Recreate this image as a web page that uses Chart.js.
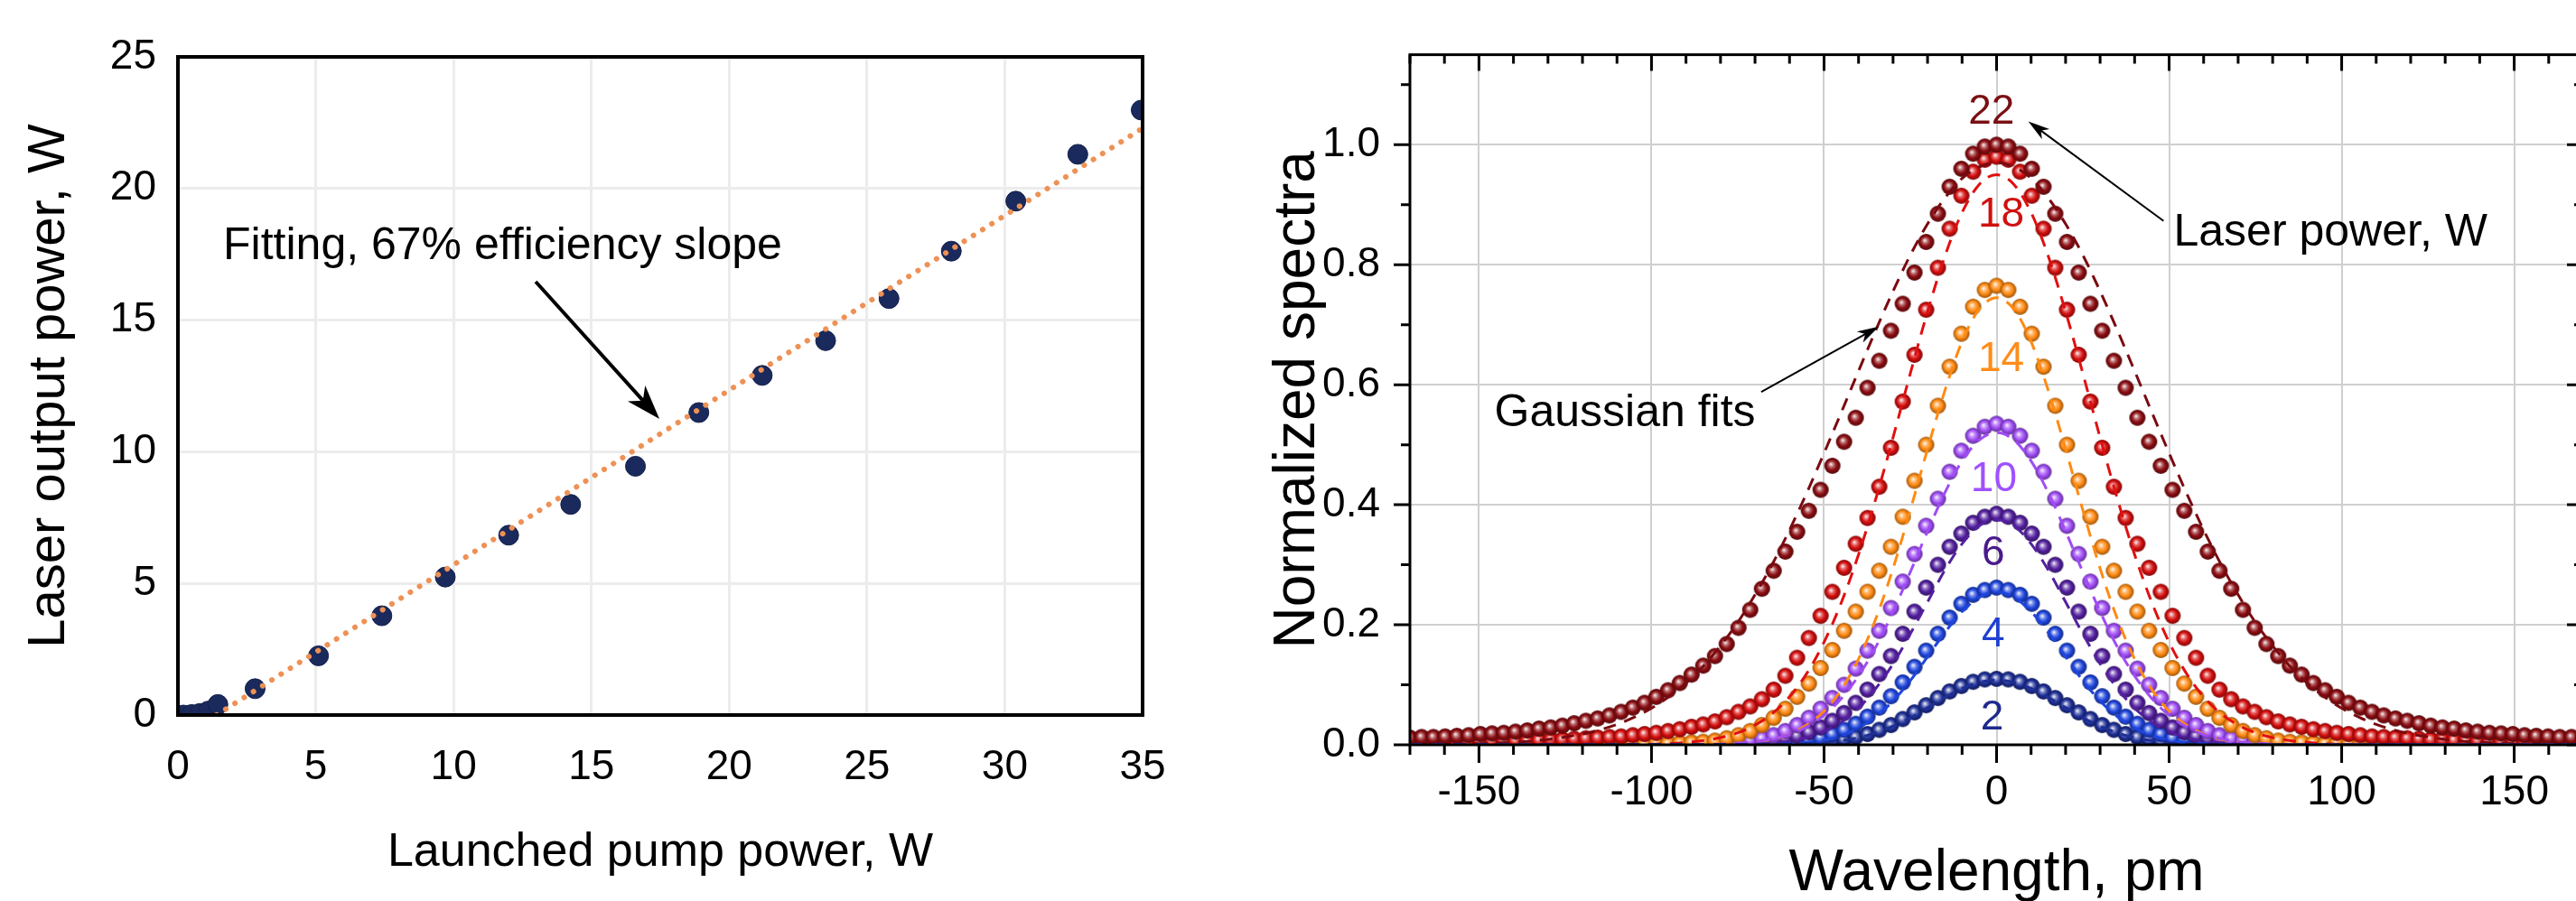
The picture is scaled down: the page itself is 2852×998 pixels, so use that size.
<!DOCTYPE html>
<html>
<head>
<meta charset="utf-8">
<title>Laser output power and normalized spectra</title>
<script src="https://cdn.jsdelivr.net/npm/chart.js@4.4.1/dist/chart.umd.min.js"></script>
<style>
  html, body { margin: 0; padding: 0; background: #fff; overflow: hidden; width: 2852px; height: 998px; }
  .box { position: absolute; top: 0; }
  #leftBox { left: 0; width: 1330px; height: 998px; }
  #rightBox { left: 1380px; width: 1500px; height: 1010px; }
</style>
</head>
<body>
<div class="box" id="leftBox"><canvas id="powerChart"></canvas></div>
<div class="box" id="rightBox"><canvas id="spectraChart"></canvas></div>
<script>
// ---- left panel: output power vs launched pump power ----
const pumpPower  = [0.2, 0.5, 0.8, 1.1, 1.45, 2.8, 5.1, 7.4, 9.7, 12.0, 14.25, 16.6, 18.9, 21.2, 23.5, 25.8, 28.06, 30.4, 32.65, 34.95];
const laserPower = [0.0, 0.02, 0.06, 0.15, 0.4, 1.0, 2.25, 3.77, 5.24, 6.83, 8.0, 9.45, 11.49, 12.9, 14.22, 15.82, 17.62, 19.52, 21.3, 22.98];
const fitPump  = [1.4, 35];
const fitLaser = [0, 22.29];
const powerTicksX = [0, 5, 10, 15, 20, 25, 30, 35];
const powerTicksY = [0, 5, 10, 15, 20, 25];

// ---- right panel: normalized spectra, one array per laser power ----
const wavelength = [
  -170, -166.6, -163.2, -159.8, -156.4, -153, -149.6, -146.2, -142.8, -139.4,
  -136, -132.6, -129.2, -125.8, -122.4, -119, -115.6, -112.2, -108.8, -105.4,
  -102, -98.6, -95.2, -91.8, -88.4, -85, -81.6, -78.2, -74.8, -71.4,
  -68, -64.6, -61.2, -57.8, -54.4, -51, -47.6, -44.2, -40.8, -37.4,
  -34, -30.6, -27.2, -23.8, -20.4, -17, -13.6, -10.2, -6.8, -3.4,
  0,
  3.4, 6.8, 10.2, 13.6, 17, 20.4, 23.8, 27.2, 30.6, 34,
  37.4, 40.8, 44.2, 47.6, 51, 54.4, 57.8, 61.2, 64.6, 68,
  71.4, 74.8, 78.2, 81.6, 85, 88.4, 91.8, 95.2, 98.6, 102,
  105.4, 108.8, 112.2, 115.6, 119, 122.4, 125.8, 129.2, 132.6, 136,
  139.4, 142.8, 146.2, 149.6, 153, 156.4, 159.8, 163.2, 166.6, 170
];
const spec22 = [
  0.012, 0.013, 0.013, 0.014, 0.015, 0.016, 0.018, 0.019, 0.02, 0.022,
  0.024, 0.027, 0.029, 0.032, 0.036, 0.04, 0.044, 0.049, 0.055, 0.062,
  0.07, 0.08, 0.091, 0.103, 0.117, 0.132, 0.148, 0.168, 0.195, 0.225,
  0.26, 0.29, 0.322, 0.355, 0.39, 0.425, 0.465, 0.505, 0.545, 0.595,
  0.64, 0.69, 0.735, 0.787, 0.838, 0.885, 0.93, 0.96, 0.985, 0.997,
  1.0,
  0.997, 0.985, 0.96, 0.93, 0.885, 0.838, 0.787, 0.735, 0.69, 0.64,
  0.595, 0.545, 0.505, 0.465, 0.425, 0.39, 0.355, 0.322, 0.29, 0.26,
  0.225, 0.195, 0.168, 0.148, 0.132, 0.117, 0.103, 0.091, 0.08, 0.07,
  0.062, 0.055, 0.049, 0.044, 0.04, 0.036, 0.032, 0.029, 0.027, 0.024,
  0.022, 0.02, 0.019, 0.018, 0.016, 0.015, 0.014, 0.013, 0.013, 0.012
];
const spec18 = [
  0.004, 0.004, 0.004, 0.005, 0.005, 0.005, 0.005, 0.006, 0.006, 0.007,
  0.007, 0.008, 0.009, 0.009, 0.01, 0.011, 0.012, 0.013, 0.014, 0.016,
  0.018, 0.02, 0.023, 0.026, 0.03, 0.034, 0.039, 0.046, 0.055, 0.064,
  0.076, 0.092, 0.115, 0.145, 0.178, 0.215, 0.255, 0.295, 0.335, 0.378,
  0.43, 0.495, 0.572, 0.65, 0.725, 0.795, 0.86, 0.915, 0.955, 0.975,
  0.98,
  0.975, 0.955, 0.915, 0.86, 0.795, 0.725, 0.65, 0.572, 0.495, 0.43,
  0.378, 0.335, 0.295, 0.255, 0.215, 0.178, 0.145, 0.115, 0.092, 0.076,
  0.064, 0.055, 0.046, 0.039, 0.034, 0.03, 0.026, 0.023, 0.02, 0.018,
  0.016, 0.014, 0.013, 0.012, 0.011, 0.01, 0.009, 0.009, 0.008, 0.007,
  0.007, 0.006, 0.006, 0.005, 0.005, 0.005, 0.005, 0.004, 0.004, 0.004
];
const spec14 = [
  0, 0, 0, 0, 0, 0, 0, 0, 0, 0,
  0, 0, 0, 0, 0, 0, 0, 0, 0, 0.001,
  0.001, 0.002, 0.002, 0.003, 0.004, 0.005, 0.007, 0.011, 0.016, 0.023,
  0.033, 0.045, 0.06, 0.08, 0.102, 0.128, 0.158, 0.19, 0.222, 0.255,
  0.29, 0.33, 0.38, 0.44, 0.5, 0.565, 0.63, 0.685, 0.73, 0.758,
  0.765,
  0.758, 0.73, 0.685, 0.63, 0.565, 0.5, 0.44, 0.38, 0.33, 0.29,
  0.255, 0.222, 0.19, 0.158, 0.128, 0.102, 0.08, 0.06, 0.045, 0.033,
  0.023, 0.016, 0.011, 0.007, 0.005, 0.004, 0.003, 0.002, 0.002, 0.001,
  0.001, 0, 0, 0, 0, 0, 0, 0, 0, 0,
  0, 0, 0, 0, 0, 0, 0, 0, 0, 0
];
const spec10 = [
  0, 0, 0, 0, 0, 0, 0, 0, 0, 0,
  0, 0, 0, 0, 0, 0, 0, 0, 0, 0,
  0, 0, 0, 0.001, 0.002, 0.002, 0.003, 0.004, 0.006, 0.008,
  0.011, 0.016, 0.023, 0.033, 0.045, 0.06, 0.078, 0.1, 0.127, 0.157,
  0.19, 0.228, 0.272, 0.318, 0.365, 0.41, 0.455, 0.49, 0.515, 0.53,
  0.535,
  0.53, 0.515, 0.49, 0.455, 0.41, 0.365, 0.318, 0.272, 0.228, 0.19,
  0.157, 0.127, 0.1, 0.078, 0.06, 0.045, 0.033, 0.023, 0.016, 0.011,
  0.008, 0.006, 0.004, 0.003, 0.002, 0.002, 0.001, 0, 0, 0,
  0, 0, 0, 0, 0, 0, 0, 0, 0, 0,
  0, 0, 0, 0, 0, 0, 0, 0, 0, 0
];
const spec6 = [
  0, 0, 0, 0, 0, 0, 0, 0, 0, 0,
  0, 0, 0, 0, 0, 0, 0, 0, 0, 0,
  0, 0, 0, 0, 0, 0, 0.001, 0.002, 0.003, 0.004,
  0.006, 0.008, 0.011, 0.015, 0.021, 0.029, 0.04, 0.053, 0.07, 0.092,
  0.118, 0.148, 0.185, 0.222, 0.262, 0.3, 0.33, 0.352, 0.37, 0.38,
  0.385,
  0.38, 0.37, 0.352, 0.33, 0.3, 0.262, 0.222, 0.185, 0.148, 0.118,
  0.092, 0.07, 0.053, 0.04, 0.029, 0.021, 0.015, 0.011, 0.008, 0.006,
  0.004, 0.003, 0.002, 0.001, 0, 0, 0, 0, 0, 0,
  0, 0, 0, 0, 0, 0, 0, 0, 0, 0,
  0, 0, 0, 0, 0, 0, 0, 0, 0, 0
];
const spec4 = [
  0, 0, 0, 0, 0, 0, 0, 0, 0, 0,
  0, 0, 0, 0, 0, 0, 0, 0, 0, 0,
  0, 0, 0, 0, 0, 0, 0, 0, 0, 0.001,
  0.002, 0.003, 0.004, 0.006, 0.008, 0.012, 0.018, 0.025, 0.035, 0.047,
  0.062, 0.081, 0.104, 0.13, 0.157, 0.185, 0.212, 0.235, 0.25, 0.258,
  0.262,
  0.258, 0.25, 0.235, 0.212, 0.185, 0.157, 0.13, 0.104, 0.081, 0.062,
  0.047, 0.035, 0.025, 0.018, 0.012, 0.008, 0.006, 0.004, 0.003, 0.002,
  0.001, 0, 0, 0, 0, 0, 0, 0, 0, 0,
  0, 0, 0, 0, 0, 0, 0, 0, 0, 0,
  0, 0, 0, 0, 0, 0, 0, 0, 0, 0
];
const spec2 = [
  0, 0, 0, 0, 0, 0, 0, 0, 0, 0,
  0, 0, 0, 0, 0, 0, 0, 0, 0, 0,
  0, 0, 0, 0, 0, 0, 0, 0, 0, 0,
  0, 0, 0, 0.001, 0.002, 0.004, 0.006, 0.009, 0.013, 0.018,
  0.025, 0.033, 0.043, 0.054, 0.066, 0.078, 0.089, 0.098, 0.105, 0.109,
  0.11,
  0.109, 0.105, 0.098, 0.089, 0.078, 0.066, 0.054, 0.043, 0.033, 0.025,
  0.018, 0.013, 0.009, 0.006, 0.004, 0.002, 0.001, 0, 0, 0,
  0, 0, 0, 0, 0, 0, 0, 0, 0, 0,
  0, 0, 0, 0, 0, 0, 0, 0, 0, 0,
  0, 0, 0, 0, 0, 0, 0, 0, 0, 0
];

// Gaussian fits (dashed), read on a 5 pm grid
const fitWavelength = [
  -170, -165, -160, -155, -150, -145, -140, -135, -130, -125, -120, -115,
  -110, -105, -100, -95, -90, -85, -80, -75, -70, -65, -60, -55,
  -50, -45, -40, -35, -30, -25, -20, -15, -10, -5, 0,
  5, 10, 15, 20, 25, 30, 35, 40, 45, 50, 55, 60,
  65, 70, 75, 80, 85, 90, 95, 100, 105, 110, 115, 120,
  125, 130, 135, 140, 145, 150, 155, 160, 165, 170
];
const gauss22 = [
  0, 0, 0.001, 0.001, 0.002, 0.003, 0.004, 0.006, 0.009, 0.013, 0.018, 0.025,
  0.034, 0.046, 0.061, 0.08, 0.103, 0.131, 0.165, 0.204, 0.25, 0.301, 0.358, 0.42,
  0.486, 0.554, 0.623, 0.691, 0.756, 0.816, 0.868, 0.911, 0.944, 0.963, 0.97,
  0.963, 0.944, 0.911, 0.868, 0.816, 0.756, 0.691, 0.623, 0.554, 0.486, 0.42, 0.358,
  0.301, 0.25, 0.204, 0.165, 0.131, 0.103, 0.08, 0.061, 0.046, 0.034, 0.025, 0.018,
  0.013, 0.009, 0.006, 0.004, 0.003, 0.002, 0.001, 0.001, 0, 0
];
const gauss18 = [
  0, 0, 0, 0, 0, 0, 0, 0, 0, 0, 0, 0,
  0, 0, 0.001, 0.002, 0.004, 0.007, 0.012, 0.02, 0.033, 0.052, 0.08, 0.119,
  0.171, 0.237, 0.317, 0.41, 0.512, 0.619, 0.722, 0.814, 0.887, 0.934, 0.95,
  0.934, 0.887, 0.814, 0.722, 0.619, 0.512, 0.41, 0.317, 0.237, 0.171, 0.119, 0.08,
  0.052, 0.033, 0.02, 0.012, 0.007, 0.004, 0.002, 0.001, 0, 0, 0, 0,
  0, 0, 0, 0, 0, 0, 0, 0, 0, 0
];
const gauss14 = [
  0, 0, 0, 0, 0, 0, 0, 0, 0, 0, 0, 0,
  0, 0, 0, 0, 0, 0, 0.001, 0.002, 0.005, 0.009, 0.018, 0.033,
  0.056, 0.092, 0.143, 0.21, 0.294, 0.391, 0.493, 0.59, 0.672, 0.726, 0.745,
  0.726, 0.672, 0.59, 0.493, 0.391, 0.294, 0.21, 0.143, 0.092, 0.056, 0.033, 0.018,
  0.009, 0.005, 0.002, 0.001, 0, 0, 0, 0, 0, 0, 0, 0,
  0, 0, 0, 0, 0, 0, 0, 0, 0, 0
];
const gauss10 = [
  0, 0, 0, 0, 0, 0, 0, 0, 0, 0, 0, 0,
  0, 0, 0, 0, 0, 0, 0.001, 0.003, 0.005, 0.01, 0.017, 0.03,
  0.049, 0.077, 0.115, 0.163, 0.222, 0.288, 0.356, 0.42, 0.473, 0.508, 0.52,
  0.508, 0.473, 0.42, 0.356, 0.288, 0.222, 0.163, 0.115, 0.077, 0.049, 0.03, 0.017,
  0.01, 0.005, 0.003, 0.001, 0, 0, 0, 0, 0, 0, 0, 0,
  0, 0, 0, 0, 0, 0, 0, 0, 0, 0
];
const gauss6 = [
  0, 0, 0, 0, 0, 0, 0, 0, 0, 0, 0, 0,
  0, 0, 0, 0, 0, 0, 0, 0, 0.001, 0.003, 0.006, 0.012,
  0.022, 0.038, 0.061, 0.094, 0.135, 0.185, 0.238, 0.291, 0.335, 0.365, 0.375,
  0.365, 0.335, 0.291, 0.238, 0.185, 0.135, 0.094, 0.061, 0.038, 0.022, 0.012, 0.006,
  0.003, 0.001, 0, 0, 0, 0, 0, 0, 0, 0, 0, 0,
  0, 0, 0, 0, 0, 0, 0, 0, 0, 0
];
const gauss4 = [
  0, 0, 0, 0, 0, 0, 0, 0, 0, 0, 0, 0,
  0, 0, 0, 0, 0, 0, 0, 0, 0, 0.001, 0.002, 0.004,
  0.008, 0.015, 0.028, 0.047, 0.073, 0.107, 0.147, 0.187, 0.222, 0.246, 0.255,
  0.246, 0.222, 0.187, 0.147, 0.107, 0.073, 0.047, 0.028, 0.015, 0.008, 0.004, 0.002,
  0.001, 0, 0, 0, 0, 0, 0, 0, 0, 0, 0, 0,
  0, 0, 0, 0, 0, 0, 0, 0, 0, 0
];
const gauss2 = [
  0, 0, 0, 0, 0, 0, 0, 0, 0, 0, 0, 0,
  0, 0, 0, 0, 0, 0, 0, 0, 0, 0, 0.001, 0.002,
  0.003, 0.007, 0.012, 0.02, 0.031, 0.045, 0.062, 0.079, 0.094, 0.104, 0.108,
  0.104, 0.094, 0.079, 0.062, 0.045, 0.031, 0.02, 0.012, 0.007, 0.003, 0.002, 0.001,
  0, 0, 0, 0, 0, 0, 0, 0, 0, 0, 0, 0,
  0, 0, 0, 0, 0, 0, 0, 0, 0, 0
];
const powerLabels = ['2', '4', '6', '10', '14', '18', '22'];
const spectraTicksX = [-150, -100, -50, 0, 50, 100, 150];
const spectraTicksY = [0, 0.2, 0.4, 0.6, 0.8, 1.0];

// ---- styles ----
const FONT = "'Liberation Sans', Arial, sans-serif";
const seriesColors = ['#1e2f96', '#1f45dc', '#5420a0', '#a04cf5', '#ff8a12', '#d40e0e', '#8c0d12'];
const labelColors  = ['#1e2a8c', '#1f3fd0', '#4a1a8c', '#a050ff', '#ff8c1a', '#d01010', '#7a0f14'];
const fitColors    = ['#1e2f96', '#1f45dc', '#5420a0', '#a04cf5', '#ff8a12', '#e01010', '#7a0a10'];

Chart.defaults.font.family = FONT;
Chart.defaults.color = '#000';

function shade(hex, f) {
    const n = parseInt(hex.slice(1), 16);
    let r = n >> 16, g = (n >> 8) & 255, b = n & 255;
    if (f < 0) { r *= 1 + f; g *= 1 + f; b *= 1 + f; }
    else { r += (255 - r) * f; g += (255 - g) * f; b += (255 - b) * f; }
    return `rgb(${Math.round(r)},${Math.round(g)},${Math.round(b)})`;
}

// shaded "ball" marker like the Origin sphere symbol
function makeBall(hex, r) {
    const size = Math.ceil(r * 2) + 2;
    const c = document.createElement('canvas');
    c.width = size; c.height = size;
    const g = c.getContext('2d');
    const m = size / 2;
    const grad = g.createRadialGradient(m - r * 0.18, m - r * 0.2, r * 0.05, m, m, r);
    grad.addColorStop(0, shade(hex, 0.9));
    grad.addColorStop(0.3, shade(hex, 0.35));
    grad.addColorStop(0.6, hex);
    grad.addColorStop(1, shade(hex, -0.4));
    g.fillStyle = grad;
    g.beginPath(); g.arc(m, m, r, 0, Math.PI * 2); g.fill();
    return c;
}

function drawArrow(ctx, x1, y1, x2, y2, lw, headLen, headW) {
    const ang = Math.atan2(y2 - y1, x2 - x1);
    ctx.save();
    ctx.strokeStyle = '#000';
    ctx.fillStyle = '#000';
    ctx.lineWidth = lw;
    ctx.beginPath();
    ctx.moveTo(x1, y1);
    ctx.lineTo(x2 - headLen * 0.7 * Math.cos(ang), y2 - headLen * 0.7 * Math.sin(ang));
    ctx.stroke();
    ctx.translate(x2, y2);
    ctx.rotate(ang);
    ctx.beginPath();
    ctx.moveTo(0, 0);
    ctx.lineTo(-headLen, headW / 2);
    ctx.lineTo(-headLen * 0.72, 0);
    ctx.lineTo(-headLen, -headW / 2);
    ctx.closePath();
    ctx.fill();
    ctx.restore();
}

const toPoints = (xs, ys) => xs.map((x, i) => ({ x: x, y: ys[i] }));

document.addEventListener('DOMContentLoaded', function () {
    // ---------- left chart ----------
    const powerFrame = {
        id: 'powerFrame',
        afterDatasetsDraw(chart) {
            const { ctx, chartArea: a, scales: { x, y } } = chart;
            ctx.save();
            ctx.strokeStyle = '#000';
            ctx.lineWidth = 4;
            ctx.strokeRect(a.left, a.top, a.right - a.left, a.bottom - a.top);
            ctx.font = '50px ' + FONT;
            ctx.fillStyle = '#000';
            ctx.textAlign = 'left';
            ctx.textBaseline = 'middle';
            ctx.fillText('Fitting, 67% efficiency slope', x.getPixelForValue(1.64), y.getPixelForValue(17.8));
            drawArrow(ctx, x.getPixelForValue(12.98), y.getPixelForValue(16.46),
                      x.getPixelForValue(17.47), y.getPixelForValue(11.25), 4, 38, 26);
            ctx.restore();
        }
    };

    new Chart(document.getElementById('powerChart'), {
        type: 'scatter',
        data: {
            datasets: [
                {
                    data: toPoints(fitPump, fitLaser),
                    showLine: true,
                    borderColor: '#ee9155',
                    borderWidth: 6,
                    borderDash: [0.1, 12],
                    borderCapStyle: 'round',
                    pointRadius: 0,
                    order: 0
                },
                {
                    data: toPoints(pumpPower, laserPower),
                    pointRadius: 11,
                    pointBackgroundColor: '#1b2a5c',
                    pointBorderColor: '#14204a',
                    pointBorderWidth: 1,
                    order: 1
                }
            ]
        },
        options: {
            responsive: true,
            maintainAspectRatio: false,
            animation: false,
            layout: { padding: { left: 0, top: 63, right: 65, bottom: 0 } },
            plugins: { legend: { display: false }, tooltip: { enabled: false } },
            scales: {
                x: {
                    type: 'linear', min: 0, max: 35,
                    afterBuildTicks: s => { s.ticks = powerTicksX.map(v => ({ value: v })); },
                    afterFit: s => { s.height = 206; },
                    grid: { color: '#ececec', lineWidth: 3, drawTicks: false },
                    border: { display: false },
                    ticks: { padding: 31, font: { size: 46 }, color: '#000', maxRotation: 0, autoSkip: false },
                    title: { display: true, text: 'Launched pump power, W', font: { size: 52 }, color: '#000', padding: { top: 0, bottom: 22 } }
                },
                y: {
                    type: 'linear', min: 0, max: 25,
                    afterBuildTicks: s => { s.ticks = powerTicksY.map(v => ({ value: v })); },
                    afterFit: s => { s.width = 197; },
                    grid: { color: '#ececec', lineWidth: 3, drawTicks: false },
                    border: { display: false },
                    ticks: { padding: 24, font: { size: 46 }, color: '#000' },
                    title: { display: true, text: 'Laser output power, W', font: { size: 58 }, color: '#000', padding: { top: 20, bottom: 0 } }
                }
            }
        },
        plugins: [powerFrame]
    });

    // ---------- right chart ----------
    const spectra = [spec2, spec4, spec6, spec10, spec14, spec18, spec22];
    const fits = [gauss2, gauss4, gauss6, gauss10, gauss14, gauss18, gauss22];
    const labelPos = [[-1.3, 0.045], [-1, 0.183], [-1, 0.318], [-0.8, 0.442], [1.3, 0.642], [1.3, 0.882], [-1.5, 1.054]];

    const datasets = [];
    fits.forEach((g, i) => {
        datasets.push({
            data: toPoints(fitWavelength, g),
            showLine: true,
            borderColor: fitColors[i],
            borderWidth: 3,
            borderDash: [14, 10],
            cubicInterpolationMode: 'monotone',
            pointRadius: 0,
            clip: 0,
            order: 0
        });
    });
    spectra.forEach((s, i) => {
        datasets.push({
            data: toPoints(wavelength, s),
            pointStyle: makeBall(seriesColors[i], 9),
            pointRadius: 9,
            clip: 0,
            order: 1 + (spectra.length - 1 - i) // higher power drawn on top
        });
    });

    const spectraFrame = {
        id: 'spectraFrame',
        afterDatasetsDraw(chart) {
            const { ctx, chartArea: a, scales: { x, y } } = chart;
            ctx.save();
            ctx.strokeStyle = '#000';
            ctx.lineWidth = 3;
            ctx.strokeRect(a.left, a.top, a.right - a.left, a.bottom - a.top);
            // major / minor ticks: out on bottom-left, in on top-right
            ctx.beginPath();
            for (let v = -170; v <= 170; v += 10) {
                const px = x.getPixelForValue(v);
                const major = v % 50 === 0;
                ctx.moveTo(px, a.bottom); ctx.lineTo(px, a.bottom + (major ? 20 : 11));
                ctx.moveTo(px, a.top); ctx.lineTo(px, a.top + (major ? 18 : 10));
            }
            for (let k = 0; k <= 11; k++) {
                const py = y.getPixelForValue(k / 10);
                const len = k % 2 === 0 ? 18 : 10;
                ctx.moveTo(a.left, py); ctx.lineTo(a.left - len, py);
                ctx.moveTo(a.right, py); ctx.lineTo(a.right - len, py);
            }
            ctx.stroke();

            // power labels
            ctx.textAlign = 'center';
            ctx.textBaseline = 'middle';
            ctx.font = '46px ' + FONT;
            powerLabels.forEach((t, i) => {
                ctx.fillStyle = labelColors[i];
                ctx.fillText(t, x.getPixelForValue(labelPos[i][0]), y.getPixelForValue(labelPos[i][1]));
            });

            ctx.fillStyle = '#000';
            ctx.textAlign = 'left';
            ctx.font = '50px ' + FONT;
            ctx.fillText('Laser power, W', x.getPixelForValue(51.3), y.getPixelForValue(0.852));
            ctx.fillText('Gaussian fits', x.getPixelForValue(-145.5), y.getPixelForValue(0.552));
            drawArrow(ctx, x.getPixelForValue(48.4), y.getPixelForValue(0.873),
                      x.getPixelForValue(9.2), y.getPixelForValue(1.039), 2, 24, 14);
            drawArrow(ctx, x.getPixelForValue(-68.2), y.getPixelForValue(0.588),
                      x.getPixelForValue(-34.1), y.getPixelForValue(0.697), 2, 24, 14);
            ctx.restore();
        }
    };

    new Chart(document.getElementById('spectraChart'), {
        type: 'scatter',
        data: { datasets: datasets },
        options: {
            responsive: true,
            maintainAspectRatio: false,
            animation: false,
            layout: { padding: { left: 0, top: 58, right: 20, bottom: 0 } },
            plugins: { legend: { display: false }, tooltip: { enabled: false } },
            scales: {
                x: {
                    type: 'linear', min: -170, max: 170,
                    afterBuildTicks: s => { s.ticks = spectraTicksX.map(v => ({ value: v })); },
                    afterFit: s => { s.height = 185; },
                    grid: { color: '#cfcfcf', lineWidth: 2, drawTicks: false },
                    border: { display: false },
                    ticks: { padding: 26, font: { size: 46 }, color: '#000', maxRotation: 0, autoSkip: false },
                    title: { display: true, text: 'Wavelength, pm', font: { size: 64 }, color: '#000', padding: { top: 0, bottom: 3 } }
                },
                y: {
                    type: 'linear', min: 0, max: 1.15,
                    afterBuildTicks: s => { s.ticks = spectraTicksY.map(v => ({ value: v })); },
                    afterFit: s => { s.width = 181; },
                    grid: { color: '#cfcfcf', lineWidth: 2, drawTicks: false },
                    border: { display: false },
                    ticks: { padding: 33, font: { size: 46 }, color: '#000', callback: v => Number(v).toFixed(1) },
                    title: { display: true, text: 'Normalized spectra', font: { size: 64 }, color: '#000', padding: { top: 19, bottom: 0 } }
                }
            }
        },
        plugins: [spectraFrame]
    });
});
</script>
</body>
</html>
